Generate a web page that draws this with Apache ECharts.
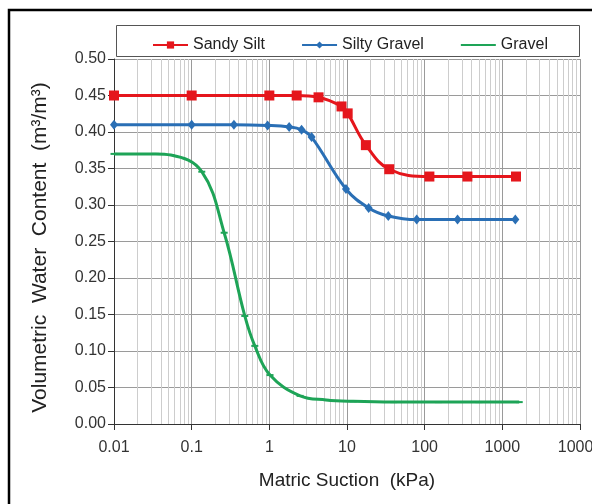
<!DOCTYPE html>
<html><head><meta charset="utf-8">
<script src="https://cdn.jsdelivr.net/npm/echarts@6/dist/echarts.min.js"></script>
<style>html,body{margin:0;padding:0;background:#fff}#c{width:592px;height:504px}</style>
</head><body><div id="c"></div>
<script>
// ---- data ----
const seriesNames = ['Sandy Silt', 'Silty Gravel', 'Gravel'];

const sandySiltSuction = [0.01, 0.1, 1, 2.25, 4.3, 8.5, 10.2, 17.5, 35, 115, 355, 1500];
const sandySiltTheta   = [0.45, 0.45, 0.45, 0.45, 0.4475, 0.435, 0.4255, 0.382, 0.349, 0.339, 0.339, 0.339];

const siltyGravelSuction = [0.01, 0.1, 0.35, 0.95, 1.8, 2.6, 3.5, 9.7, 19, 34, 79, 265, 1470];
const siltyGravelTheta   = [0.41, 0.41, 0.41, 0.409, 0.407, 0.403, 0.393, 0.322, 0.296, 0.285, 0.28, 0.28, 0.28];

const gravelSuction = [0.01, 0.0344, 0.054, 0.135, 0.262, 0.483, 0.65, 1.02, 2.49, 5.35, 12, 40, 150, 500, 1650];
const gravelTheta   = [0.37, 0.37, 0.3685, 0.3456, 0.262, 0.148, 0.107, 0.067, 0.0385, 0.033, 0.031, 0.03, 0.03, 0.03, 0.03];

const xTickLabels = ['0.01', '0.1', '1', '10', '100', '1000', '10000'];
const xDecades = [0.01, 0.1, 1, 10, 100, 1000];
const minorMultipliers = [2, 3, 4, 5, 6, 7, 8, 9];

// ---- build ----
const pair = (xs, ys) => xs.map((x, i) => [x, ys[i]]);
const minorLines = [];
xDecades.forEach(d => minorMultipliers.forEach(m => minorLines.push([+(d * m).toPrecision(3)])));

const FONT = 'Liberation Sans, Arial, sans-serif';
const chart = echarts.init(document.getElementById('c'), null, {renderer: 'canvas'});

chart.setOption({
  animation: false,
  backgroundColor: '#fff',
  textStyle: {fontFamily: FONT},
  grid: {left: 114, right: 12, top: 59, bottom: 80, containLabel: false, outerBoundsMode: 'none'},
  graphic: [
    {type: 'rect', shape: {x: 9, y: 10, width: 620, height: 620},
     style: {fill: 'none', stroke: '#000', lineWidth: 2.5}, silent: true},
    {type: 'rect', shape: {x: 116.5, y: 25.5, width: 463, height: 31},
     style: {fill: '#fff', stroke: '#555', lineWidth: 1}, silent: true, z: 0}
  ],
  legend: {
    left: 147, top: 32, itemWidth: 35, itemHeight: 9, itemGap: 36,
    data: [seriesNames[0], seriesNames[1], {name: seriesNames[2], itemStyle: {opacity: 0}}],
    textStyle: {fontSize: 16, color: '#222', fontFamily: FONT}
  },
  xAxis: {
    type: 'log', logBase: 10, min: 0.01, max: 10000, splitNumber: 6,
    name: 'Matric Suction  (kPa)', nameLocation: 'middle', nameGap: 47,
    nameTextStyle: {fontSize: 19, color: '#222', fontFamily: FONT},
    axisLine: {lineStyle: {color: '#333', width: 1}},
    axisTick: {show: true, length: 6, lineStyle: {color: '#333'}},
    axisLabel: {fontSize: 16, color: '#333', margin: 16,
      formatter: v => { const i = Math.round(Math.log10(v) + 2); return xTickLabels[i] ?? ''; }},
    splitLine: {show: true, lineStyle: {color: '#9a9a9a', width: 1}}
  },
  yAxis: {
    type: 'value', min: 0, max: 0.5, interval: 0.05,
    name: 'Volumetric  Water  Content  (m³/m³)', nameLocation: 'middle', nameGap: 63,
    nameTextStyle: {fontSize: 21, color: '#222', fontFamily: FONT, padding: [0, 12, 0, 0]},
    axisLine: {show: true, lineStyle: {color: '#333', width: 1}},
    axisTick: {show: true, length: 6, lineStyle: {color: '#333'}},
    axisLabel: {fontSize: 16, color: '#333', margin: 8, formatter: v => v.toFixed(2)},
    splitLine: {show: true, lineStyle: {color: '#9a9a9a', width: 1}}
  },
  series: [
    {
      type: 'custom', name: 'minorGrid', silent: true, z: 0,
      data: minorLines,
      renderItem: (params, api) => {
        const p0 = api.coord([api.value(0), 0]);
        const p1 = api.coord([api.value(0), 0.5]);
        return {type: 'line', shape: {x1: Math.round(p0[0]) + 0.5, y1: p0[1], x2: Math.round(p1[0]) + 0.5, y2: p1[1]},
                style: {stroke: '#cdcdcd', lineWidth: 1}};
      }
    },
    {
      type: 'line', name: seriesNames[0], data: pair(sandySiltSuction, sandySiltTheta),
      smooth: 0.4, color: '#e5161c', z: 5,
      lineStyle: {width: 3}, symbol: 'rect', symbolSize: 10,
      itemStyle: {color: '#e5161c'}
    },
    {
      type: 'line', name: seriesNames[1], data: pair(siltyGravelSuction, siltyGravelTheta),
      smooth: 0.4, color: '#2a6fb5', z: 4,
      lineStyle: {width: 3}, symbol: 'diamond', symbolSize: [8, 10],
      itemStyle: {color: '#2a6fb5'}
    },
    {
      type: 'line', name: seriesNames[2], data: pair(gravelSuction, gravelTheta),
      smooth: 0.4, color: '#1ea457', z: 3,
      lineStyle: {width: 3}, symbol: 'rect', symbolSize: [7, 2],
      itemStyle: {color: '#1ea457'}
    }
  ]
});
</script>
</body></html>
